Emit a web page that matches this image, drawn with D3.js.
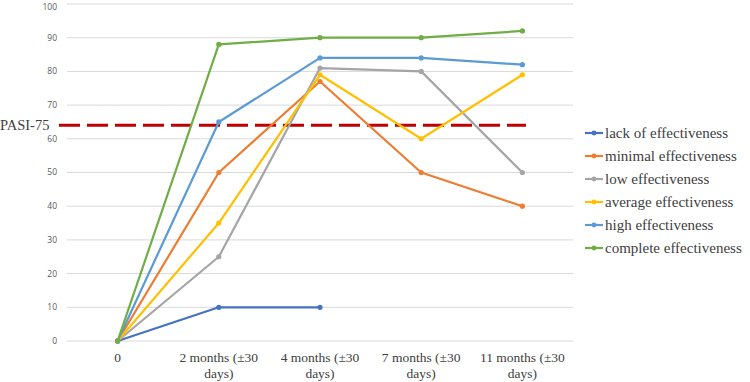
<!DOCTYPE html>
<html>
<head>
<meta charset="utf-8">
<script src="https://d3js.org/d3.v7.min.js"></script>
<style>
  body { margin: 0; background: #fff; }
</style>
</head>
<body>
<div id="chart"></div>
<script>
// Chart data
const categories = ["0", "2 months (\u00b130 days)", "4 months (\u00b130 days)", "7 months (\u00b130 days)", "11 months  (\u00b130 days)"];
const seriesNames = ["lack of effectiveness", "minimal effectiveness", "low effectiveness", "average effectiveness", "high effectiveness", "complete effectiveness"];
const lackValues = [0, 10, 10, null, null];
const minimalValues = [0, 50, 77, 50, 40];
const lowValues = [0, 25, 81, 80, 50];
const averageValues = [0, 35, 79, 60, 79];
const highValues = [0, 65, 84, 84, 82];
const completeValues = [0, 88, 90, 90, 92];
const yTicks = [0, 10, 20, 30, 40, 50, 60, 70, 80, 90, 100];
const pasiValue = 64;
const pasiLabel = "PASI-75";

const seriesValues = [lackValues, minimalValues, lowValues, averageValues, highValues, completeValues];
const colors = ["#4472C4", "#ED7D31", "#A5A5A5", "#FFC000", "#5B9BD5", "#70AD47"];

const W = 750, H = 382;
const plot = { left: 67, right: 573, top: 4, bottom: 341 };
const serif = "Liberation Serif, serif";

const svg = d3.select("#chart").append("svg")
    .attr("width", W)
    .attr("height", H);

const x = d3.scaleBand()
    .domain(categories)
    .range([plot.left, plot.right]);

const y = d3.scaleLinear()
    .domain([0, 100])
    .range([plot.bottom, plot.top]);

// Gridlines
svg.append("g")
    .selectAll("line")
    .data(yTicks)
    .enter()
    .append("line")
    .attr("x1", plot.left)
    .attr("x2", plot.right)
    .attr("y1", d => y(d))
    .attr("y2", d => y(d))
    .attr("stroke", "#d9d9d9")
    .attr("stroke-width", 1);

// Y axis labels
svg.append("g")
    .selectAll("text")
    .data(yTicks)
    .enter()
    .append("text")
    .attr("x", 57)
    .attr("y", d => Math.max(y(d), 7))
    .attr("dy", "0.35em")
    .attr("text-anchor", "end")
    .style("font-family", "Open Sans, sans-serif")
    .style("font-size", "8.5px")
    .style("fill", "#595959")
    .text(d => d);

// X axis labels (two lines)
const xl = svg.append("g")
    .selectAll("text")
    .data(categories)
    .enter()
    .append("text")
    .attr("text-anchor", "middle")
    .style("font-family", serif)
    .style("font-size", "13.5px")
    .style("fill", "#404040");

xl.each(function (d) {
    const cx = x(d) + x.bandwidth() / 2;
    const parts = d === "0" ? ["0"] : [d.replace(" days)", ""), "days)"];
    const t = d3.select(this);
    parts.forEach((p, i) => {
        t.append("tspan")
            .attr("x", cx)
            .attr("y", 362 + i * 15.5)
            .text(p);
    });
});

// PASI-75 reference line
svg.append("line")
    .attr("x1", 59)
    .attr("x2", 526)
    .attr("y1", y(pasiValue))
    .attr("y2", y(pasiValue))
    .attr("stroke", "#C00000")
    .attr("stroke-width", 3)
    .attr("stroke-dasharray", "21,7");

svg.append("text")
    .attr("x", 0)
    .attr("y", y(pasiValue))
    .attr("dy", "0.35em")
    .style("font-family", serif)
    .style("font-size", "14.5px")
    .style("fill", "#404040")
    .text(pasiLabel);

// Series lines
const line = d3.line()
    .defined(d => d.v !== null)
    .x(d => x(d.c) + x.bandwidth() / 2)
    .y(d => y(d.v));

seriesValues.forEach((vals, i) => {
    const pts = vals.map((v, j) => ({ c: categories[j], v: v }));
    svg.append("path")
        .datum(pts)
        .attr("fill", "none")
        .attr("stroke", colors[i])
        .attr("stroke-width", 2.2)
        .attr("stroke-linejoin", "round")
        .attr("d", line);
    svg.append("g")
        .selectAll("circle")
        .data(pts.filter(d => d.v !== null))
        .enter()
        .append("circle")
        .attr("cx", d => x(d.c) + x.bandwidth() / 2)
        .attr("cy", d => y(d.v))
        .attr("r", 2.6)
        .attr("fill", colors[i]);
});

// Legend
const legend = svg.append("g");
seriesNames.forEach((name, i) => {
    const ly = 133 + i * 23;
    legend.append("line")
        .attr("x1", 585)
        .attr("x2", 603)
        .attr("y1", ly)
        .attr("y2", ly)
        .attr("stroke", colors[i])
        .attr("stroke-width", 2.2);
    legend.append("circle")
        .attr("cx", 594)
        .attr("cy", ly)
        .attr("r", 2.4)
        .attr("fill", colors[i]);
    legend.append("text")
        .attr("x", 605)
        .attr("y", ly)
        .attr("dy", "0.35em")
        .style("font-family", serif)
        .style("font-size", "15px")
        .style("fill", "#404040")
        .text(name);
});
</script>
</body>
</html>
